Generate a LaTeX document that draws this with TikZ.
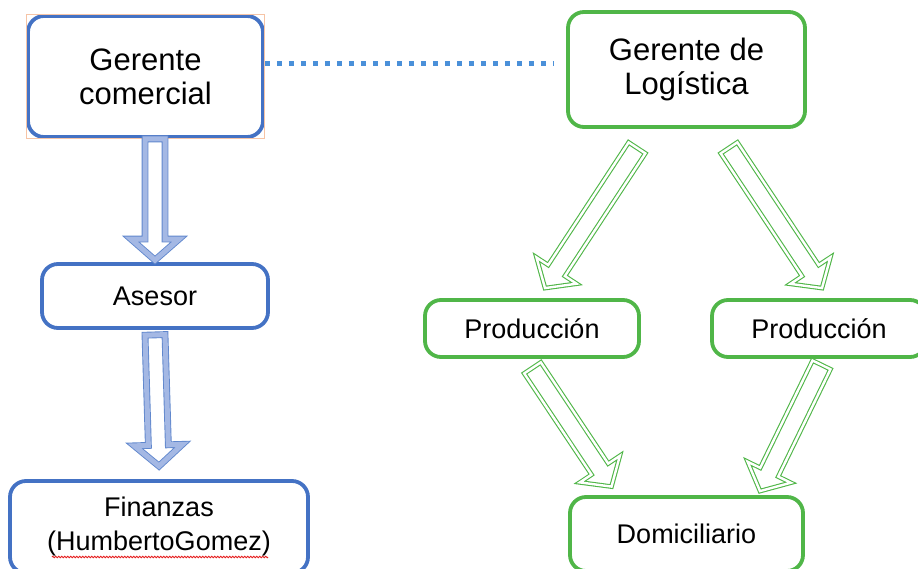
\documentclass[tikz,border=0pt]{standalone}
\usepackage{fontspec}
\setmainfont{Liberation Sans}
\usepackage{tikz}
\usetikzlibrary{calc,decorations.pathmorphing}
\usepackage{xcolor}
\definecolor{orgblue}{RGB}{68,114,196}
\definecolor{orgbluefill}{RGB}{164,184,228}
\definecolor{orggreen}{RGB}{80,182,72}
\definecolor{linkblue}{RGB}{74,144,217}
\definecolor{selpeach}{RGB}{246,196,166}
\definecolor{spellred}{RGB}{230,30,30}

\tikzset{
  bluebox/.style={draw=orgblue, line width=3.8pt, rounded corners=16pt, fill=white,
    align=center, inner sep=0pt},
  greenbox/.style={draw=orggreen, line width=3.8pt, rounded corners=16pt, fill=white,
    align=center, inner sep=0pt},
  bigtext/.style={font=\fontsize{31}{34}\selectfont},
  smalltext/.style={font=\fontsize{27}{34}\selectfont},
  bluearrow/.style={draw=orgblue!85, double=orgbluefill, line width=0.9pt,
    double distance=5pt, line join=miter},
  greenarrow/.style={draw=orggreen, double=white, line width=1.1pt,
    double distance=2.4pt, line join=miter},
  dotline/.style={linkblue, line width=5pt, dash pattern=on 5pt off 7pt},
  spellmark/.style={spellred, line width=0.9pt,
    decorate, decoration={zigzag, amplitude=0.8pt, segment length=3pt}},
}

% hollow block arrow from #2 to #3
\newcommand{\shaftw}{10pt}
\newcommand{\headw}{24pt}
\newcommand{\headl}{21pt}
\newcommand{\blockarrow}[3][]{%
  \coordinate (neck) at ($(#3)!\headl!(#2)$);
  \draw[#1] ($(#2)!\shaftw!90:(#3)$) -- ($(neck)!\shaftw!-90:(#2)$)
    -- ($(neck)!\headw!-90:(#2)$) -- (#3) -- ($(neck)!\headw!90:(#2)$)
    -- ($(neck)!\shaftw!90:(#2)$) -- ($(#2)!\shaftw!-90:(#3)$) -- cycle;}

\begin{document}
\begin{tikzpicture}[x=1pt, y=-1pt]
    \useasboundingbox (0,0) rectangle (918,569);
    \clip (0,0) rectangle (918,569);

    % Left column
    \node[bluebox, bigtext, minimum width=235pt, minimum height=121pt] (gc) at (145.5,76.5) {Gerente\\comercial};
    \draw[selpeach, line width=0.8pt] (26,14) rectangle (264,138);
    \node[bluebox, smalltext, minimum width=226pt, minimum height=64pt] (asesor) at (155,296) {Asesor};
    \node[bluebox, smalltext, minimum width=298pt, minimum height=92pt] (fin) at (159,527) {Finanzas\\(HumbertoGomez)};
    \draw[spellmark] (52,557) -- (268,557);

    % Right column
    \node[greenbox, bigtext, minimum width=237pt, minimum height=115pt] (gl) at (686.5,69.5) {Gerente de\\Logística};
    \node[greenbox, smalltext, minimum width=214pt, minimum height=57pt] (prod1) at (532,328.5) {Producción};
    \node[greenbox, smalltext, minimum width=214pt, minimum height=57pt] (prod2) at (819,328.5) {Producción};
    \node[greenbox, smalltext, minimum width=233pt, minimum height=74pt] (dom) at (686.5,534) {Domiciliario};

    % dotted link
    \coordinate (dotend) at (553,64);
    \draw[dotline] (gc.east |- dotend) -- (dotend);

    % blue arrows
    \coordinate (a1s) at (asesor.north |- gc.south);
    \coordinate (a1e) at ([yshift=2pt]asesor.north);
    \coordinate (a2s) at ([yshift=-5pt]asesor.south);
    \coordinate (a2e) at ([yshift=13pt]fin.north);
    \blockarrow[bluearrow]{a1s}{a1e}
    \blockarrow[bluearrow]{a2s}{a2e}

    % green arrows
    \coordinate (g1s) at ([shift={(-49.5,19)}]gl.south);
    \coordinate (g1e) at ([shift={(13,-10)}]prod1.north);
    \coordinate (g2s) at ([shift={(42.5,19)}]gl.south);
    \coordinate (g2e) at ([shift={(3,-10)}]prod2.north);
    \coordinate (g3s) at ([shift={(0.5,9)}]prod1.south);
    \coordinate (g3e) at ([shift={(-75,-8.5)}]dom.north);
    \coordinate (g4s) at ([shift={(2.5,6)}]prod2.south);
    \coordinate (g4e) at ([shift={(73.5,-4)}]dom.north);
    \blockarrow[greenarrow]{g1s}{g1e}
    \blockarrow[greenarrow]{g2s}{g2e}
    \blockarrow[greenarrow]{g3s}{g3e}
    \blockarrow[greenarrow]{g4s}{g4e}
\end{tikzpicture}
\end{document}
